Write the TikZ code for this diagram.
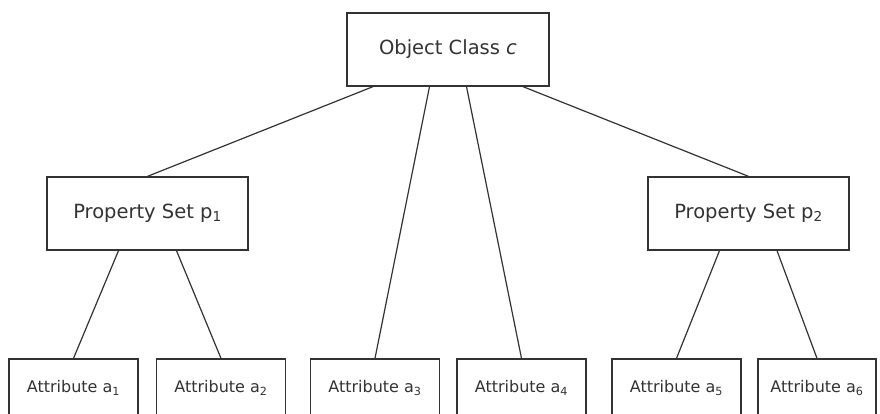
\documentclass[tikz,border=0pt]{standalone}
\usepackage{fontspec}
\setmainfont{DejaVu Sans}
\usetikzlibrary{calc}
\definecolor{ink}{HTML}{333333}
\tikzset{
  box/.style={draw=ink, line width=1.3pt, fill=white, text=ink, inner sep=0pt, minimum height=73pt},
  bigbox/.style={box, font=\fontsize{19.5}{22}\selectfont},
  attrbox/.style={box, minimum width=129pt, minimum height=58pt, font=\fontsize{16}{19}\selectfont},
  link/.style={draw=ink, line width=1.2pt}
}
\begin{document}
\begin{tikzpicture}[x=1pt,y=-1pt]
\useasboundingbox (0,0) rectangle (880,414);
\clip (0,0) rectangle (880,414);
\fill[white] (0,0) rectangle (880,414);
% top and middle level
\node[bigbox, minimum width=202pt] (obj) at (448,49.5) {Object Class \textit{c}};
\node[bigbox, minimum width=201pt] (p1) at (147.5,213.5) {Property Set p\textsubscript{1}};
\node[bigbox, minimum width=201pt] (p2) at (748.5,213.5) {Property Set p\textsubscript{2}};
% attributes (cut off by the lower edge)
\node[attrbox] (a1) at (73.5,388) {Attribute a\textsubscript{1}};
\node[attrbox] (a2) at (221,388) {Attribute a\textsubscript{2}};
\node[attrbox] (a3) at (375,388) {Attribute a\textsubscript{3}};
\node[attrbox] (a4) at (521.5,388) {Attribute a\textsubscript{4}};
\node[attrbox] (a5) at (676.5,388) {Attribute a\textsubscript{5}};
\node[attrbox, minimum width=118pt] (a6) at (817,388) {Attribute a\textsubscript{6}};
% connectors
\draw[link] ($(obj.south)+(-75,0)$) -- (p1.north);
\draw[link] ($(obj.south)+(-18.5,0)$) -- (a3.north);
\draw[link] ($(obj.south)+(18.5,0)$) -- (a4.north);
\draw[link] ($(obj.south)+(75,0)$) -- (p2.north);
\draw[link] ($(p1.south)+(-29,0)$) -- (a1.north);
\draw[link] ($(p1.south)+(29,0)$) -- (a2.north);
\draw[link] ($(p2.south)+(-29,0)$) -- (a5.north);
\draw[link] ($(p2.south)+(28.5,0)$) -- (a6.north);
\end{tikzpicture}
\end{document}
